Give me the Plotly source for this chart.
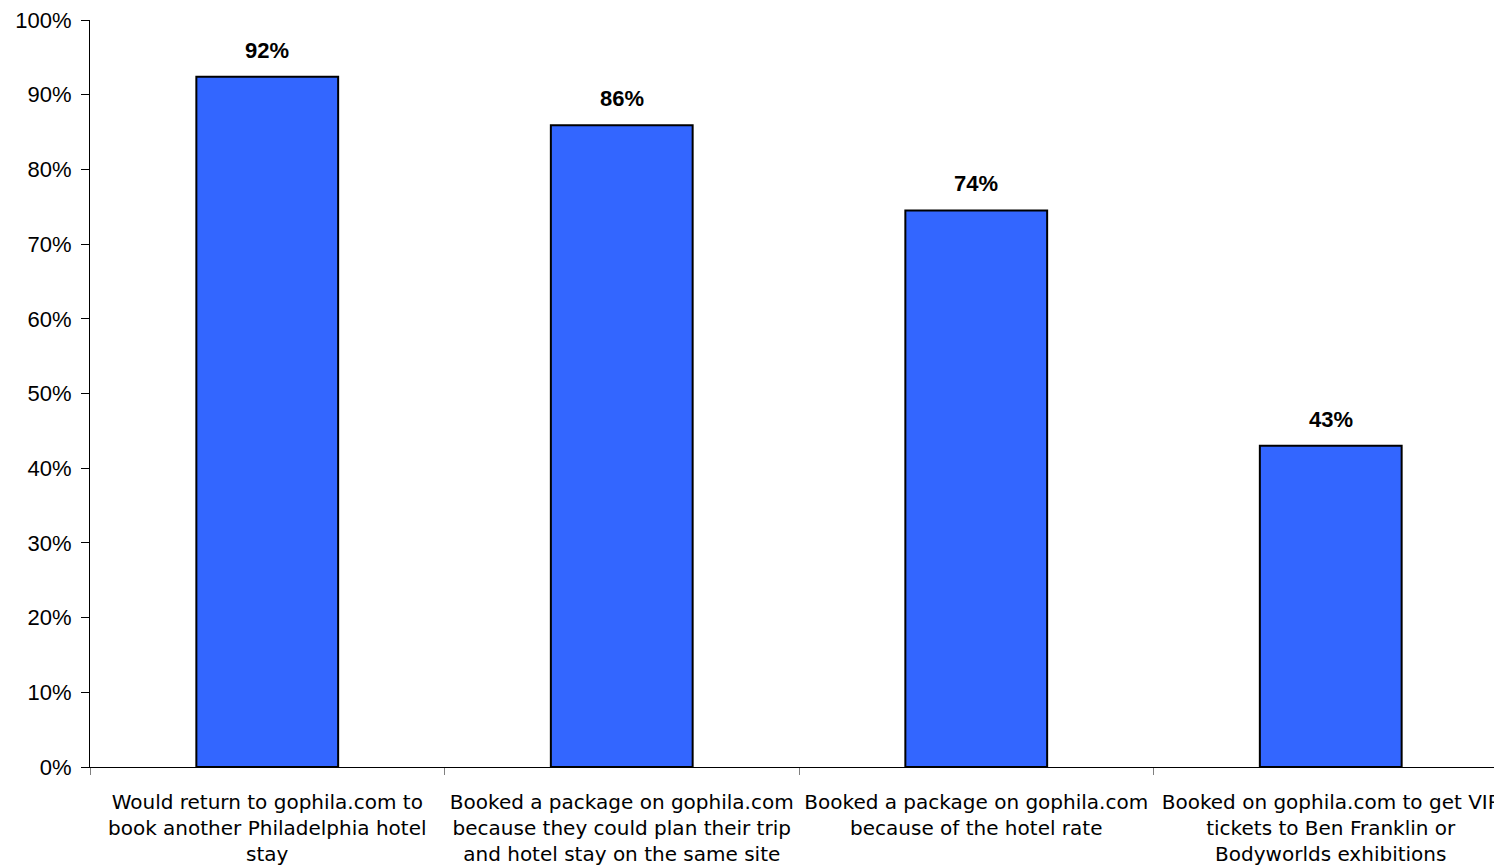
import plotly.graph_objects as go

categories = [
    "Would return to gophila.com to<br>book another Philadelphia hotel<br>stay",
    "Booked a package on gophila.com<br>because they could plan their trip<br>and hotel stay on the same site",
    "Booked a package on gophila.com<br>because of the hotel rate",
    "Booked on gophila.com to get VIP<br>tickets to Ben Franklin or<br>Bodyworlds exhibitions",
]
values = [92.4, 85.9, 74.5, 43.0]
value_labels = ["92%", "86%", "74%", "43%"]
y_ticks = [0, 10, 20, 30, 40, 50, 60, 70, 80, 90, 100]
y_tick_labels = [f"{v}%" for v in y_ticks]

FONT = "Liberation Sans, Arial, sans-serif"
XFONT = "DejaVu Sans, Liberation Sans, sans-serif"

fig = go.Figure()
fig.add_trace(go.Bar(
    x=categories,
    y=values,
    width=0.4,
    marker=dict(color="#3366FF", line=dict(color="#000000", width=2)),
    hoverinfo="skip",
))

for c, v, t in zip(categories, values, value_labels):
    fig.add_annotation(
        x=c, y=v, text=f"<b>{t}</b>", showarrow=False,
        yanchor="bottom", yshift=12,
        font=dict(family=FONT, size=22, color="#000000"),
    )

fig.update_layout(
    width=1494, height=866,
    margin=dict(l=90, r=0, t=20, b=99, autoexpand=False),
    paper_bgcolor="white", plot_bgcolor="white",
    showlegend=False,
    font=dict(family=FONT, size=22, color="#000000"),
    bargap=0.6,
)
fig.update_xaxes(
    type="category",
    range=[-0.5, 3.4605],
    automargin=False,
    tickangle=0,
    showline=True, linecolor="#000000", linewidth=1,
    ticks="outside", tickson="boundaries", ticklen=7, tickcolor="#808080", tickwidth=1,
    showgrid=False, zeroline=False,
    tickfont=dict(family=XFONT, size=20, color="#000000"),
    ticklabelstandoff=17,
    ticklabeloverflow="allow",
)
fig.update_yaxes(
    range=[0, 100],
    automargin=False,
    tickvals=y_ticks, ticktext=y_tick_labels,
    showline=True, linecolor="#000000", linewidth=1,
    ticks="outside", ticklen=8, tickcolor="#000000", tickwidth=1,
    showgrid=False, zeroline=False,
    tickfont=dict(family=FONT, size=22, color="#000000"),
    ticklabelstandoff=5,
    ticklabeloverflow="allow",
)

fig.write_html(
    "out.html",
    config={"displayModeBar": False},
    post_script="document.body.style.margin='0';document.body.style.overflow='hidden';",
)
